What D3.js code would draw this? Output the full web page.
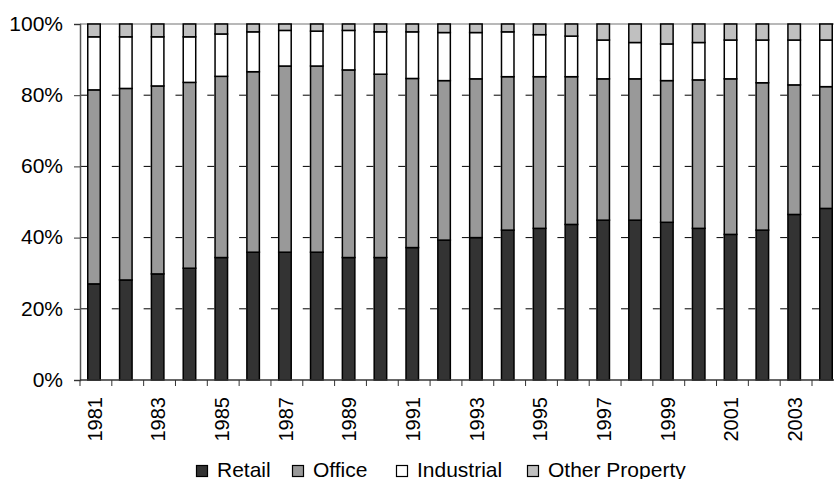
<!DOCTYPE html>
<html>
<head>
<meta charset="utf-8">
<script src="https://cdn.jsdelivr.net/npm/d3@7"></script>
<style>
  html, body { margin: 0; padding: 0; background: #fff; }
  svg { display: block; font-family: "Liberation Sans", Arial, sans-serif; }
</style>
</head>
<body>
<svg id="chart" width="834" height="479"></svg>
<script>
const years = ["1981","1982","1983","1984","1985","1986","1987","1988","1989","1990","1991","1992",
               "1993","1994","1995","1996","1997","1998","1999","2000","2001","2002","2003","2004"];
const retail     = [27.0,28.1,29.8,31.4,34.4,35.9,35.9,35.9,34.4,34.4,37.2,39.3,40.0,42.1,42.6,43.7,44.9,44.9,44.3,42.6,40.9,42.1,46.5,48.2];
const office     = [54.5,53.8,52.8,52.2,50.9,50.7,52.3,52.3,52.7,51.5,47.5,44.8,44.6,43.1,42.6,41.5,39.7,39.7,39.8,41.7,43.7,41.4,36.4,34.2];
const industrial = [14.9,14.5,13.8,12.8,11.9,11.2,10.0, 9.8,11.1,11.9,13.1,13.5,13.0,12.6,11.8,11.4,10.9,10.2,10.3,10.5,10.9,12.0,12.6,13.1];
const other      = [ 3.6, 3.6, 3.6, 3.6, 2.8, 2.2, 1.8, 2.0, 1.8, 2.2, 2.2, 2.4, 2.4, 2.2, 3.0, 3.4, 4.5, 5.2, 5.6, 5.2, 4.5, 4.5, 4.5, 4.5];
const seriesNames = ["Retail","Office","Industrial","Other Property"];
const yTicks = [0, 20, 40, 60, 80, 100];
const xLabelYears = ["1981","1983","1985","1987","1989","1991","1993","1995","1997","1999","2001","2003"];

const colors = ["#333333", "#999999", "#ffffff", "#c0c0c0"];

const svg = d3.select("#chart");
const mLeft = 80, mTop = 24, mBottom = 380;
const step = (812 - 80) / 23;

const x = d3.scaleBand().domain(years).range([mLeft, mLeft + step * years.length]).padding(0);
const y = d3.scaleLinear().domain([0, 100]).range([mBottom, mTop]);

// build table for stack
const table = years.map((yr, i) => ({
  year: yr, "Retail": retail[i], "Office": office[i], "Industrial": industrial[i], "Other Property": other[i]
}));
table.forEach(d => {
  const s = seriesNames.reduce((a, k) => a + d[k], 0);
  seriesNames.forEach(k => d[k] = d[k] / s * 100);
});
const stacked = d3.stack().keys(seriesNames)(table);

// top border line
svg.append("line")
  .attr("x1", mLeft).attr("x2", 834).attr("y1", y(100)).attr("y2", y(100))
  .attr("stroke", "#a0a0a0").attr("stroke-width", 1.5);

// gridlines
svg.append("g").selectAll("line")
  .data(yTicks.filter(t => t > 0 && t < 100))
  .join("line")
  .attr("x1", mLeft).attr("x2", 834)
  .attr("y1", d => y(d)).attr("y2", d => y(d))
  .attr("stroke", "#000").attr("stroke-width", 1)
  .attr("stroke-dasharray", `7,${step - 7}`);

// bars
const barOffset = 7, barW = 14, sw = 1.5;
svg.append("g").selectAll("g")
  .data(stacked)
  .join("g")
  .attr("fill", (d, i) => colors[i])
  .selectAll("rect")
  .data(d => d)
  .join("rect")
  .attr("x", d => x(d.data.year) + barOffset + sw / 2)
  .attr("width", barW - sw)
  .attr("y", d => y(d[1]))
  .attr("height", d => y(d[0]) - y(d[1]))
  .attr("stroke", "#000")
  .attr("stroke-width", sw);

// y axis
const yAxis = d3.axisLeft(y).tickValues(yTicks).tickFormat(d => d + "%").tickSize(6).tickPadding(11);
const gy = svg.append("g").attr("transform", `translate(${mLeft},0)`).call(yAxis);
gy.select(".domain").attr("stroke", "#555").attr("stroke-width", 1.5);
gy.selectAll(".tick line").attr("stroke", "#333").attr("stroke-width", 1);
gy.selectAll(".tick text").attr("font-size", "21px").attr("fill", "#000")
  .attr("font-family", "'Liberation Sans', Arial, sans-serif").attr("dy", "0.3em");

// x axis line + ticks at band boundaries
svg.append("line")
  .attr("x1", mLeft).attr("x2", 834).attr("y1", mBottom).attr("y2", mBottom)
  .attr("stroke", "#333").attr("stroke-width", 1.5);
svg.append("g").selectAll("line")
  .data(years)
  .join("line")
  .attr("x1", d => x(d)).attr("x2", d => x(d))
  .attr("y1", mBottom).attr("y2", mBottom + 6)
  .attr("stroke", "#333").attr("stroke-width", 1);

// x labels
svg.append("g").selectAll("text")
  .data(xLabelYears)
  .join("text")
  .attr("transform", d => `translate(${x(d) + 14.5},${mBottom + 17}) rotate(-90)`)
  .attr("text-anchor", "end")
  .attr("dy", "0.36em")
  .attr("font-size", "20px")
  .attr("fill", "#000")
  .text(d => d);

// legend
const legendX = [196, 292, 396, 527];
const lg = svg.append("g").selectAll("g")
  .data(seriesNames)
  .join("g")
  .attr("transform", (d, i) => `translate(${legendX[i]},465)`);
lg.append("rect")
  .attr("x", 0.5).attr("y", 0.5).attr("width", 11).attr("height", 11)
  .attr("fill", (d, i) => colors[i]).attr("stroke", "#000").attr("stroke-width", 1.2);
lg.append("text")
  .attr("x", 21).attr("y", 11.5)
  .attr("font-size", "21px").attr("fill", "#000")
  .text(d => d);
</script>
</body>
</html>
